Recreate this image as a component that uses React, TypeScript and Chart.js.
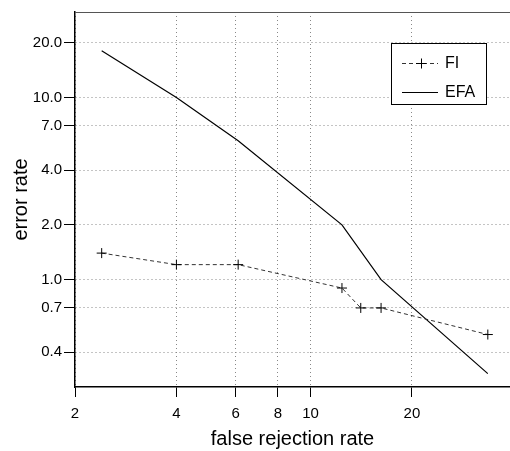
import React, { useEffect, useRef } from "react";
import { Chart, registerables } from "chart.js";

Chart.register(...registerables);

const frrFI = [2.4, 4.0, 6.1, 12.4, 14.1, 16.2, 33.6];
const errFI = [1.4, 1.21, 1.21, 0.9, 0.7, 0.7, 0.5];
const frrEFA = [2.4, 4.0, 6.1, 12.4, 16.2, 33.6];
const errEFA = [18.1, 10.0, 5.8, 2.0, 1.0, 0.305];

const xTicks = [2, 4, 6, 8, 10, 20];
const yTicks = [0.4, 0.7, 1.0, 2.0, 4.0, 7.0, 10.0, 20.0];
const seriesNames = ["FI", "EFA"];

const FONT = "'Liberation Sans', Arial, Helvetica, sans-serif";

const legendPlugin = {
  id: "boxLegend",
  afterDraw(chart: any) {
    const ctx = chart.ctx;
    const area = chart.chartArea;
    ctx.save();
    // top border of plot
    ctx.strokeStyle = "#555";
    ctx.lineWidth = 1;
    ctx.beginPath();
    ctx.moveTo(area.left, area.top + 0.5);
    ctx.lineTo(chart.width, area.top + 0.5);
    ctx.stroke();

    // legend box
    const bx = 391.5, by = 43.5, bw = 95, bh = 61;
    ctx.fillStyle = "#fff";
    ctx.fillRect(bx, by, bw, bh);
    ctx.strokeStyle = "#000";
    ctx.lineWidth = 1;
    ctx.strokeRect(bx, by, bw, bh);

    const y1 = 63.5, y2 = 92.5;
    // FI sample
    ctx.strokeStyle = "#333";
    ctx.setLineDash([4, 3]);
    ctx.beginPath();
    ctx.moveTo(402, y1);
    ctx.lineTo(438, y1);
    ctx.stroke();
    ctx.setLineDash([]);
    ctx.strokeStyle = "#000";
    ctx.beginPath();
    ctx.moveTo(416, y1);
    ctx.lineTo(426, y1);
    ctx.moveTo(421.5, y1 - 5);
    ctx.lineTo(421.5, y1 + 5);
    ctx.stroke();
    // EFA sample
    ctx.beginPath();
    ctx.moveTo(402, y2);
    ctx.lineTo(438, y2);
    ctx.stroke();

    ctx.fillStyle = "#000";
    ctx.font = `16px ${FONT}`;
    ctx.textBaseline = "middle";
    ctx.textAlign = "left";
    ctx.fillText(seriesNames[0], 445, y1);
    ctx.fillText(seriesNames[1], 445, y2);
    ctx.restore();
  },
};

export default function App() {
  const ref = useRef<HTMLCanvasElement | null>(null);

  useEffect(() => {
    if (!ref.current) return;
    const chart = new Chart(ref.current, {
      type: "line",
      data: {
        datasets: [
          {
            label: seriesNames[0],
            data: frrFI.map((x, i) => ({ x, y: errFI[i] })),
            borderColor: "#333",
            borderWidth: 1,
            borderDash: [4, 3],
            pointStyle: "cross",
            pointRadius: 5,
            pointBorderColor: "#000",
            pointBorderWidth: 1,
            fill: false,
            tension: 0,
          },
          {
            label: seriesNames[1],
            data: frrEFA.map((x, i) => ({ x, y: errEFA[i] })),
            borderColor: "#000",
            borderWidth: 1.2,
            pointRadius: 0,
            fill: false,
            tension: 0,
          },
        ],
      },
      options: {
        animation: false,
        responsive: false,
        maintainAspectRatio: false,
        devicePixelRatio: 1,
        layout: { autoPadding: false, padding: { top: 12, right: 0, left: 0, bottom: 0 } },
        plugins: { legend: { display: false }, tooltip: { enabled: false } },
        scales: {
          x: {
            type: "logarithmic",
            min: 2,
            max: 39.1,
            afterFit: (s: any) => {
              s.height = 64;
              s.paddingLeft = 0;
              s.paddingRight = 0;
            },
            afterBuildTicks: (s: any) => {
              s.ticks = xTicks.map((v) => ({ value: v }));
            },
            ticks: {
              autoSkip: false,
              maxRotation: 0,
              color: "#000",
              padding: 8,
              font: { family: FONT, size: 15 },
              callback: (v: any) => String(v),
            },
            grid: {
              color: "#888",
              tickColor: "#000",
              tickLength: 10,
              lineWidth: 1,
            },
            border: { display: true, color: "#000", width: 1.5, dash: [1, 3] },
            title: {
              display: true,
              text: "false rejection rate",
              color: "#000",
              font: { family: FONT, size: 20 },
              padding: { top: 0, bottom: 0 },
            },
          },
          y: {
            type: "logarithmic",
            min: 0.2576,
            max: 29.5,
            afterFit: (s: any) => {
              s.width = 75;
              s.paddingTop = 0;
              s.paddingBottom = 0;
            },
            afterBuildTicks: (s: any) => {
              s.ticks = yTicks.map((v) => ({ value: v }));
            },
            ticks: {
              autoSkip: false,
              color: "#000",
              padding: 2,
              font: { family: FONT, size: 15 },
              callback: (v: any) => Number(v).toFixed(1),
            },
            grid: {
              color: "#888",
              tickColor: "#000",
              tickLength: 11,
              lineWidth: 1,
            },
            border: { display: true, color: "#000", width: 1.5, dash: [1, 3] },
            title: {
              display: true,
              text: "error rate",
              color: "#000",
              font: { family: FONT, size: 20 },
              padding: { top: 9, bottom: 0 },
            },
          },
        },
      },
      plugins: [legendPlugin],
    });
    return () => chart.destroy();
  }, []);

  return (
    <div style={{ position: "absolute", left: 0, top: 0, width: 510, height: 451, background: "#fff" }}>
      <canvas ref={ref} width={510} height={451} style={{ width: 510, height: 451, display: "block" }} />
    </div>
  );
}
